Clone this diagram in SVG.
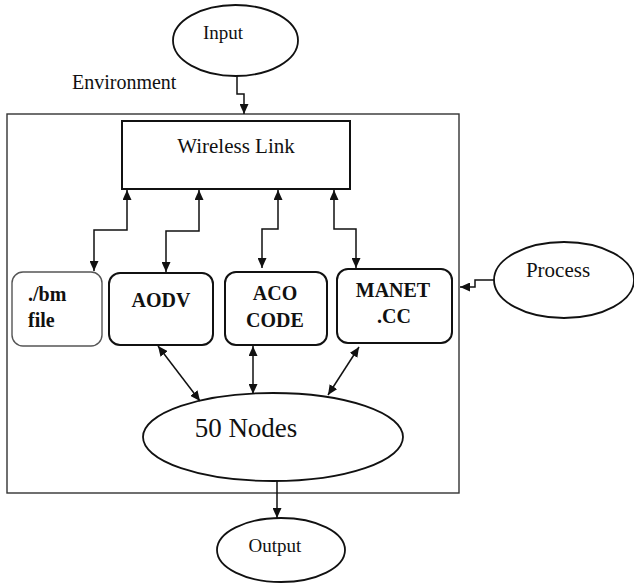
<svg xmlns="http://www.w3.org/2000/svg" width="634" height="583" viewBox="0 0 634 583">
<style>
text{font-family:'Liberation Serif','Times New Roman',Times,'DejaVu Serif',serif;fill:#111;}
.b{font-weight:bold;font-size:20px;}
.el{fill:#fff;stroke:#111;stroke-width:1.8;}
.bx{fill:#fff;stroke:#111;stroke-width:2;}
.ln{fill:none;stroke:#111;stroke-width:1.5;}
</style>
<defs>
<marker id="ah" markerUnits="userSpaceOnUse" markerWidth="10" markerHeight="9" refX="10" refY="4.5" orient="auto-start-reverse">
<path d="M0,0 L10,4.5 L0,9 z" fill="#111"/>
</marker>
</defs>
<rect x="0" y="0" width="634" height="583" fill="#fff"/>
<g id="environment">
<rect x="7" y="114" width="452" height="379" fill="none" stroke="#333" stroke-width="1.4"/>
<text x="72" y="89" font-size="20">Environment</text>
</g>
<g id="input">
<ellipse class="el" cx="235.5" cy="40.5" rx="62.5" ry="35.5"/>
<text x="223" y="39" font-size="19" text-anchor="middle">Input</text>
</g>
<g id="wireless">
<rect class="bx" x="122" y="121" width="228" height="68"/>
<text x="236" y="153" font-size="21" text-anchor="middle">Wireless Link</text>
</g>
<g id="bm">
<rect x="12" y="272" width="90" height="74" rx="11" fill="#fff" stroke="#555" stroke-width="1.4"/>
<text class="b" x="28" y="301">./bm</text>
<text class="b" x="28" y="327">file</text>
</g>
<g id="aodv">
<rect class="bx" x="109" y="273" width="104" height="72" rx="11"/>
<text class="b" x="161" y="307" text-anchor="middle">AODV</text>
</g>
<g id="aco">
<rect class="bx" x="225" y="272" width="102" height="73" rx="11"/>
<text class="b" x="275" y="300" text-anchor="middle">ACO</text>
<text class="b" x="275" y="327" text-anchor="middle">CODE</text>
</g>
<g id="manet">
<rect class="bx" x="337" y="269" width="115" height="74" rx="11"/>
<text class="b" x="393" y="297" text-anchor="middle">MANET</text>
<text class="b" x="394" y="323" text-anchor="middle">.CC</text>
</g>
<g id="process">
<ellipse class="el" cx="564" cy="280" rx="70" ry="38"/>
<text x="558" y="277" font-size="21" text-anchor="middle">Process</text>
</g>
<g id="nodes50">
<ellipse class="el" cx="273" cy="437" rx="130" ry="44"/>
<text x="246" y="437" font-size="27" text-anchor="middle">50 Nodes</text>
</g>
<g id="output">
<ellipse class="el" cx="281" cy="550" rx="64" ry="32"/>
<text x="275" y="552" font-size="19" text-anchor="middle">Output</text>
</g>
<g id="connectors">
<path class="ln" d="M237,76 V94 H244 V114" marker-end="url(#ah)"/>
<path class="ln" d="M494,280 H475 V287 H460" marker-end="url(#ah)"/>
<path class="ln" d="M127,190 V230 H94 V271" marker-start="url(#ah)" marker-end="url(#ah)"/>
<path class="ln" d="M199,190 V231 H166 V272" marker-start="url(#ah)" marker-end="url(#ah)"/>
<path class="ln" d="M278,190 V229 H262 V268" marker-start="url(#ah)" marker-end="url(#ah)"/>
<path class="ln" d="M334,190 V229 H356 V268" marker-start="url(#ah)" marker-end="url(#ah)"/>
<path class="ln" d="M158,346 L200,401" marker-start="url(#ah)" marker-end="url(#ah)"/>
<path class="ln" d="M253,346 V394" marker-start="url(#ah)" marker-end="url(#ah)"/>
<path class="ln" d="M359,347 L328,395" marker-start="url(#ah)" marker-end="url(#ah)"/>
<path class="ln" d="M277,481 V518" marker-end="url(#ah)"/>
</g>
</svg>
